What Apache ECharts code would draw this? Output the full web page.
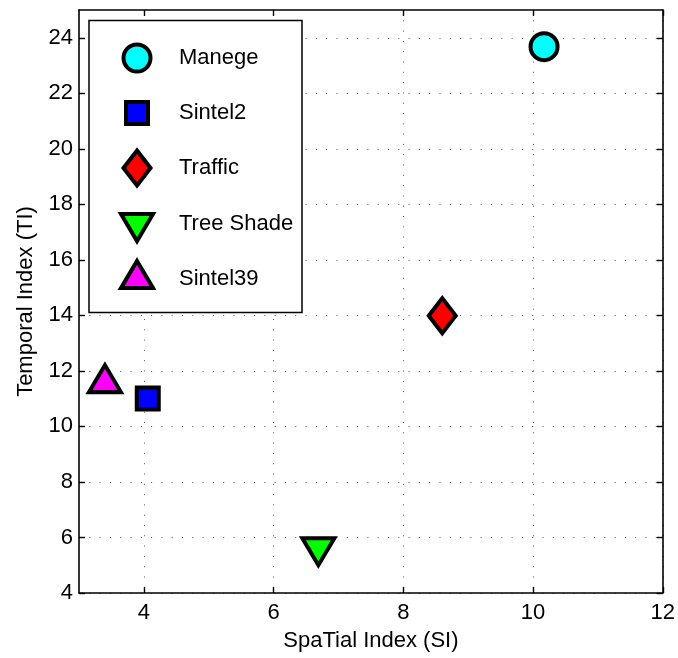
<!DOCTYPE html>
<html>
<head>
<meta charset="utf-8">
<script src="https://cdn.jsdelivr.net/npm/echarts@6/dist/echarts.min.js"></script>
<style>
  html, body { margin: 0; padding: 0; background: #fff; }
  #chart { width: 678px; height: 658px; }
</style>
</head>
<body>
<div id="chart"></div>
<script>
// values
const videoNames = ['Manege', 'Sintel2', 'Traffic', 'Tree Shade', 'Sintel39'];
const siValues = [10.17, 4.06, 8.60, 6.69, 3.40];
const tiValues = [23.68, 11.01, 13.99, 5.63, 11.56];
const xTicks = [4, 6, 8, 10, 12];
const yTicks = [4, 6, 8, 10, 12, 14, 16, 18, 20, 22, 24];

// marker look, one per video
const markerColors = ['#00ffff', '#0000ff', '#ff0000', '#00ff00', '#ff00ff'];
const markerSymbols = [
  'circle',
  'path://M0,0H10V10H0Z',
  'path://M13.5,0L27,17.5L13.5,35L0,17.5Z',
  'path://M0,-8M0,0L32,0L16,27Z',          // down triangle, box padded so anchor sits near the base
  'path://M0,36M16,0L32,27L0,27Z'           // up triangle
];
const markerSizes = [27, 22, [27, 35], [32, 35], [32, 36]];
const legendIconWidths = [27, 22, 27, 32, 32];
const legendIconHeights = [27, 22, 35, 35, 36];
const legendRowCenters = [58, 113, 168, 223.5, 279];
const legendIconCenterX = 137;

const FONT = '"Liberation Sans", Arial, Helvetica, sans-serif';
const chart = echarts.init(document.getElementById('chart'));

const xAxisBase = (position) => ({
  type: 'value',
  position,
  min: 3,
  max: 12,
  axisLine: { show: true, onZero: false, lineStyle: { color: '#000', width: 1.6 } },
  axisTick: { show: true, inside: true, length: 6, customValues: xTicks, lineStyle: { color: '#000', width: 1.4 } },
  axisLabel: { show: position === 'bottom', customValues: xTicks, color: '#000', fontSize: 22, fontFamily: FONT, margin: 9 },
  splitLine: {
    show: position === 'bottom',
    lineStyle: { color: '#555', width: 1, type: [1, 9.3] }
  }
});

const yAxisBase = (position) => ({
  type: 'value',
  position,
  min: 4,
  max: 25,
  axisLine: { show: true, onZero: false, lineStyle: { color: '#000', width: 1.6 } },
  axisTick: { show: true, inside: true, length: 6, customValues: yTicks, lineStyle: { color: '#000', width: 1.4 } },
  axisLabel: { show: position === 'left', customValues: yTicks, color: '#000', fontSize: 22, fontFamily: FONT, margin: 6 },
  splitLine: {
    show: position === 'left',
    lineStyle: { color: '#555', width: 1, type: [1, 9.3] }
  }
});

const xBottom = Object.assign(xAxisBase('bottom'), {
  name: 'SpaTial Index (SI)',
  nameLocation: 'middle',
  nameGap: 37,
  nameTextStyle: { color: '#000', fontSize: 22, fontFamily: FONT }
});
const yLeft = Object.assign(yAxisBase('left'), {
  name: 'Temporal Index (TI)',
  nameLocation: 'middle',
  nameGap: 42,
  nameTextStyle: { color: '#000', fontSize: 22, fontFamily: FONT }
});

const series = videoNames.map((name, i) => ({
  name,
  type: 'scatter',
  xAxisIndex: 0,
  yAxisIndex: 0,
  symbol: markerSymbols[i],
  symbolSize: markerSizes[i],
  itemStyle: { color: markerColors[i], borderColor: '#000', borderWidth: 4, opacity: 1 },
  emphasis: { disabled: true },
  z: 6,
  data: [[siValues[i], tiValues[i]]]
}));

// the legend group is placed by its drawn bounds, so shift each one by half its icon
const legends = videoNames.map((name, i) => ({
  data: [name],
  orient: 'vertical',
  left: legendIconCenterX - (legendIconWidths[i] + 4) / 2,
  top: legendRowCenters[i] - (legendIconHeights[i] + 4) / 2,
  padding: 0,
  itemWidth: 74,
  itemHeight: legendIconHeights[i],
  selectedMode: false,
  itemStyle: { borderColor: '#000', borderWidth: 4 },
  textStyle: { color: '#000', fontSize: 22, fontFamily: FONT },
  z: 5
}));

chart.setOption({
  backgroundColor: '#fff',
  animation: false,
  grid: { left: 79, right: 15, top: 10, bottom: 65 },
  xAxis: [xBottom, xAxisBase('top')],
  yAxis: [yLeft, yAxisBase('right')],
  graphic: [{
    type: 'rect',
    shape: { x: 89, y: 20.5, width: 213, height: 292 },
    style: { fill: '#fff', stroke: '#000', lineWidth: 1.5 },
    z: 4
  }],
  legend: legends,
  series
});
</script>
</body>
</html>
